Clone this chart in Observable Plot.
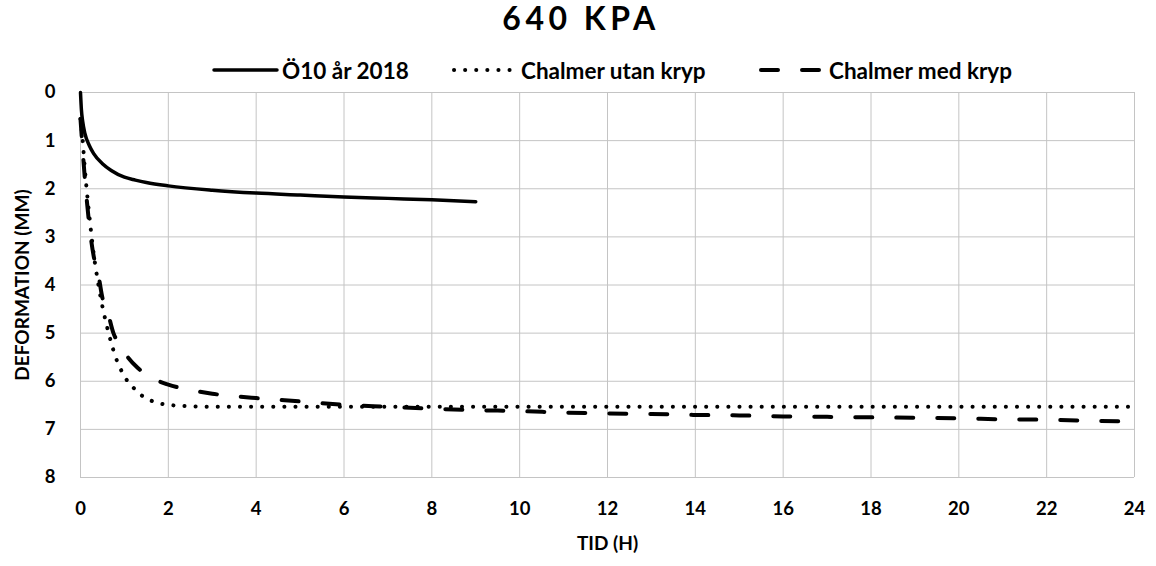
<!DOCTYPE html>
<html>
<head>
<meta charset="utf-8">
<script src="https://cdn.jsdelivr.net/npm/d3@7"></script>
<script src="https://cdn.jsdelivr.net/npm/@observablehq/plot@0.6"></script>
<style>
  html, body { margin: 0; padding: 0; background: #fff; }
  #wrap { position: relative; width: 1156px; height: 566px; font-family: Lato, "Open Sans", sans-serif; font-weight: bold; color: #000; }
  #title { position: absolute; left: 0; top: 1px; width: 1162px; text-align: center; font-size: 32px; letter-spacing: 4.5px; line-height: 34px; }
  .leg { position: absolute; top: 57px; height: 26px; display: flex; align-items: center; font-size: 22.5px; white-space: nowrap; }
  .leg svg { display: block; margin-right: 3px; }
  #chart { position: absolute; left: 0; top: 0; }
</style>
</head>
<body>
<div id="wrap">
  <div id="chart"></div>
  <div id="title">640 KPA</div>
  <div class="leg" style="left:212px"><svg width="67" height="10"><line x1="2" x2="65" y1="5" y2="5" stroke="#000" stroke-width="3.5" stroke-linecap="round"/></svg>Ö10 år 2018</div>
  <div class="leg" style="left:452px"><svg width="66" height="10"><line x1="2" x2="64" y1="5" y2="5" stroke="#000" stroke-width="4" stroke-linecap="round" stroke-dasharray="0.1,11"/></svg>Chalmer utan kryp</div>
  <div class="leg" style="left:758px"><svg width="68" height="10"><line x1="3" x2="64" y1="5" y2="5" stroke="#000" stroke-width="4" stroke-linecap="round" stroke-dasharray="17,24"/></svg>Chalmer med kryp</div>
</div>
<script>
// Ö10 år 2018 (solid)
const o10_t = [0, 0.02, 0.05, 0.1, 0.2, 0.3, 0.5, 0.7, 1.0, 1.25, 1.5, 2, 3, 4, 5, 6, 7, 8, 9];
const o10_d = [0, 0.35, 0.6, 0.85, 1.1, 1.27, 1.48, 1.62, 1.76, 1.82, 1.87, 1.94, 2.03, 2.09, 2.13, 2.17, 2.2, 2.23, 2.27];

// Chalmer utan kryp (dotted)
const utan_t = [0, 0.05, 0.1, 0.15, 0.2, 0.3, 0.4, 0.5, 0.6, 0.7, 0.8, 0.9, 1.0, 1.2, 1.4, 1.6, 1.8, 2.0, 2.5, 3, 6, 12, 18, 24];
const utan_d = [0.55, 1.0, 1.6, 2.1, 2.55, 3.35, 3.95, 4.45, 4.85, 5.2, 5.5, 5.72, 5.9, 6.13, 6.3, 6.4, 6.46, 6.49, 6.52, 6.53, 6.53, 6.53, 6.53, 6.53];

// Chalmer med kryp (dashed)
const med_t = [0, 0.05, 0.1, 0.15, 0.2, 0.3, 0.4, 0.5, 0.6, 0.75, 0.9, 1.0, 1.3, 1.6, 2.0, 2.5, 3.0, 3.5, 4.0, 5.0, 6.0, 7.0, 8.0, 9.0, 10, 11, 12, 13, 14, 15, 16, 17, 18, 19, 20, 21, 22, 23, 24];
const med_d = [0.55, 1.2, 1.8, 2.3, 2.75, 3.4, 3.75, 4.27, 4.5, 5.0, 5.25, 5.4, 5.72, 5.92, 6.07, 6.18, 6.26, 6.31, 6.35, 6.42, 6.49, 6.53, 6.57, 6.6, 6.62, 6.65, 6.67, 6.68, 6.7, 6.71, 6.73, 6.74, 6.75, 6.76, 6.77, 6.79, 6.8, 6.82, 6.84];

const xTicks = [0, 2, 4, 6, 8, 10, 12, 14, 16, 18, 20, 22, 24];
const yTicks = [0, 1, 2, 3, 4, 5, 6, 7, 8];

const toRows = (t, d) => t.map((v, i) => ({t: v, d: d[i]}));
const o10 = toRows(o10_t, o10_d);
const utan = toRows(utan_t, utan_d);
const med = toRows(med_t, med_d);

const grid = "#c4c4c4";
const chart = Plot.plot({
  width: 1156,
  height: 566,
  marginTop: 92,
  marginBottom: 89,
  marginLeft: 80,
  marginRight: 22,
  style: {fontFamily: "Lato, 'Open Sans', sans-serif", fontWeight: "bold", fontSize: "18px", color: "#000", background: "#fff"},
  x: {domain: [0, 24]},
  y: {domain: [0, 8], reverse: true},
  marks: [
    Plot.gridX(xTicks, {stroke: grid, strokeOpacity: 1, strokeWidth: 1}),
    Plot.gridY(yTicks, {stroke: grid, strokeOpacity: 1, strokeWidth: 1}),
    Plot.axisX(xTicks, {tickSize: 0, tickPadding: 24, label: null, fontSize: 18.5, fontWeight: "bold"}),
    Plot.axisY(yTicks, {tickSize: 0, tickPadding: 25, label: null, fontSize: 18.5, fontWeight: "bold"}),
    Plot.line(o10, {x: "t", y: "d", stroke: "#000", strokeWidth: 3.5, curve: "monotone-x"}),
    Plot.line(utan, {x: "t", y: "d", stroke: "#000", strokeWidth: 4, strokeLinecap: "round", strokeDasharray: "0.1,11", curve: "monotone-x"}),
    Plot.line(med, {x: "t", y: "d", stroke: "#000", strokeWidth: 4, strokeLinecap: "round", strokeDasharray: "17,24", curve: "monotone-x"}),
    Plot.text(["TID (H)"], {frameAnchor: "bottom", dy: 72, fontSize: 19, fontWeight: "bold", fill: "#000"}),
    Plot.text(["DEFORMATION (MM)"], {frameAnchor: "left", dx: -58, rotate: -90, textAnchor: "middle", fontSize: 19, fontWeight: "bold", fill: "#000"})
  ]
});
document.getElementById("chart").appendChild(chart);
</script>
</body>
</html>
